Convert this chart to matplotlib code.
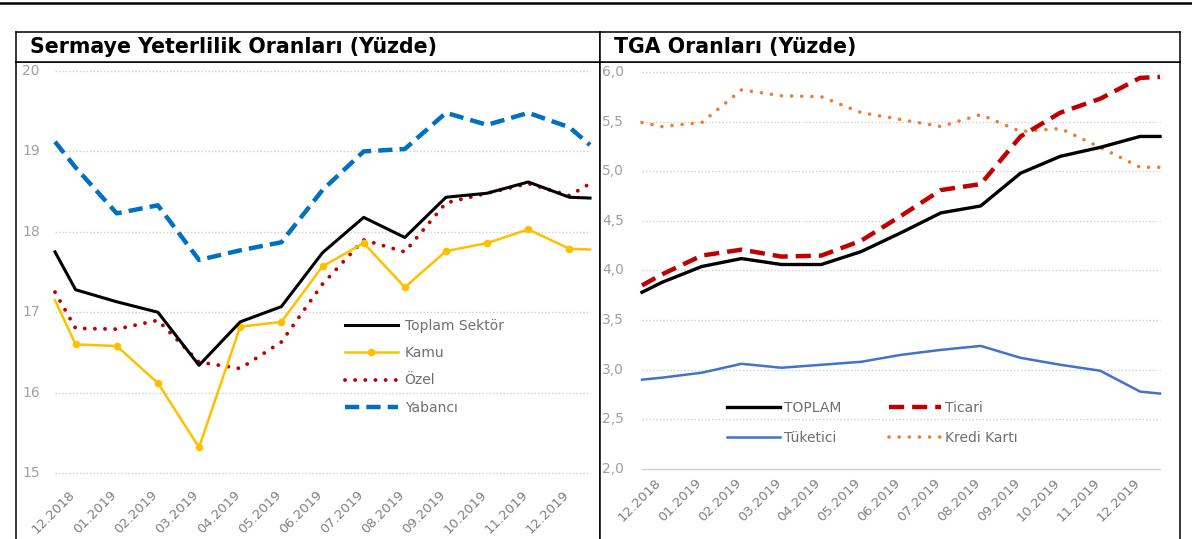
import numpy as np
import matplotlib
matplotlib.use("Agg")
import matplotlib.pyplot as plt
from matplotlib.lines import Line2D
from matplotlib.transforms import blended_transform_factory

# x-axis labels (both panels)
months = ['12.2018', '01.2019', '02.2019', '03.2019', '04.2019', '05.2019', '06.2019',
          '07.2019', '08.2019', '09.2019', '10.2019', '11.2019', '12.2019']

# Sermaye Yeterlilik Oranlari (Yuzde) - lines run half a month past both ends
toplam_sektor = [17.75, 17.28, 17.13, 17.00, 16.34, 16.88, 17.07, 17.74, 18.18, 17.93,
                 18.43, 18.48, 18.62, 18.43, 18.42]
kamu = [17.15, 16.60, 16.58, 16.12, 15.32, 16.82, 16.88, 17.57, 17.86, 17.31,
        17.76, 17.86, 18.03, 17.79, 17.78]
ozel = [17.25, 16.80, 16.79, 16.90, 16.38, 16.30, 16.63, 17.35, 17.90, 17.75,
        18.36, 18.48, 18.60, 18.45, 18.60]
yabanci = [19.12, 18.80, 18.23, 18.33, 17.65, 17.77, 17.87, 18.52, 19.00, 19.03,
           19.48, 19.33, 19.48, 19.30, 19.08]
left_ticks = [15, 16, 17, 18, 19, 20]

# TGA Oranlari (Yuzde)
tga_toplam = [3.78, 3.88, 4.04, 4.12, 4.06, 4.06, 4.19, 4.38, 4.58, 4.65,
              4.98, 5.15, 5.24, 5.35, 5.35]
ticari = [3.85, 3.96, 4.15, 4.21, 4.14, 4.15, 4.30, 4.55, 4.81, 4.87,
          5.35, 5.59, 5.73, 5.94, 5.95]
tuketici = [2.90, 2.92, 2.97, 3.06, 3.02, 3.05, 3.08, 3.15, 3.20, 3.24,
            3.12, 3.05, 2.99, 2.78, 2.76]
kredi_karti = [5.49, 5.45, 5.49, 5.82, 5.76, 5.75, 5.59, 5.52, 5.45, 5.57,
               5.40, 5.43, 5.24, 5.04, 5.04]
right_ticks = [2.0, 2.5, 3.0, 3.5, 4.0, 4.5, 5.0, 5.5, 6.0]

W, H = 1192, 539
GRAY = '#808080'
GRID = '#d0d0d0'

# category positions plus the half-step stubs at both ends
n = len(months)
x = np.concatenate([[-0.5], np.arange(n), [n - 0.5]])

fig = plt.figure(figsize=(W / 100, H / 100), dpi=100)


def fx(px):
    return px / W


def fy(py):
    return 1 - py / H


def make_panel(x0, x1, title, ylim, xlim, ticks, fmt, first_solid):
    ax = fig.add_axes([fx(x0), 0, fx(x1) - fx(x0), fy(62)])
    tax = fig.add_axes([fx(x0), fy(62), fx(x1) - fx(x0), 30 / H])
    for a in (ax, tax):
        a.set_xticks([])
        a.set_yticks([])
        for s in a.spines.values():
            s.set_color('black')
            s.set_linewidth(1.1)
    ax.spines['bottom'].set_visible(False)
    tax.text(14 / (x1 - x0), 0.5, title, transform=tax.transAxes, fontsize=14.8,
             fontweight='bold', ha='left', va='center', color='black')
    ax.set_xlim(*xlim)
    ax.set_ylim(*ylim)

    # gridlines only across the plot area
    for i, t in enumerate(ticks):
        ls = '-' if (i == 0 and first_solid) else (0, (1, 1.5))
        ax.plot([-0.5, n - 0.5], [t, t], color=GRID, lw=1, ls=ls, zorder=1)
    tr = blended_transform_factory(ax.transAxes, ax.transData)
    for t in ticks:
        ax.text(fmt[0], t, fmt[1](t), transform=tr, fontsize=10, color='#a0a0a0',
                ha='left', va='center')
    tr2 = blended_transform_factory(ax.transData, ax.transAxes)
    for i, m in enumerate(months):
        ax.text(i + fmt[3], fmt[2], m, transform=tr2, fontsize=9.5, color=GRAY,
                rotation=45, ha='right', va='top', rotation_mode='anchor')
    return ax


# ---- left panel ----
ax1 = make_panel(16, 600, 'Sermaye Yeterlilik Oranları (Yüzde)',
                 (14.18, 20.112), (-1.448, 12.743), left_ticks,
                 (6 / 584, lambda v: f'{v:d}', 0.106, -0.17), False)
ax1.plot(x, yabanci, color='#0070c0', lw=3.2, ls=(0, (3.2, 1.6)), label='Yabancı', zorder=3)
ax1.plot(x, ozel, color='#c00000', lw=2.8, ls=(0, (0.01, 2.6)), dash_capstyle='round',
         label='Özel', zorder=4)
ax1.plot(x, kamu, color='#ffc000', lw=1.8, marker='o', markersize=4.5,
         markevery=list(range(1, n + 1)), label='Kamu', zorder=4)
ax1.plot(x, toplam_sektor, color='black', lw=2.2, label='Toplam Sektör', zorder=5)

h, l = ax1.get_legend_handles_labels()
order = [3, 2, 1, 0]
fig.legend([h[i] for i in order], [l[i] for i in order], loc='upper left',
           bbox_to_anchor=(fx(345), fy(319)), frameon=False, fontsize=10,
           handlelength=3.8, handletextpad=0.5, labelspacing=0.95,
           borderpad=0, borderaxespad=0, labelcolor='#6f6f6f')

# ---- right panel ----
ax2 = make_panel(600, 1180, 'TGA Oranları (Yüzde)',
                 (1.295, 6.10), (-1.554, 13.002), right_ticks,
                 (2 / 580, lambda v: f'{v:.1f}'.replace('.', ','), 0.131, -0.18), True)
ax2.plot(x, kredi_karti, color='#ed7d31', lw=2.6, ls=(0, (0.01, 2.8)),
         dash_capstyle='round', label='Kredi Kartı', zorder=3)
ax2.plot(x, tuketici, color='#4472c4', lw=1.8, label='Tüketici', zorder=3)
ax2.plot(x, ticari, color='#c00000', lw=3.2, ls=(0, (3.4, 1.8)), label='Ticari', zorder=4)
ax2.plot(x, tga_toplam, color='black', lw=2.4, label='TOPLAM', zorder=5)

h, l = ax2.get_legend_handles_labels()
order = [3, 1, 2, 0]
fig.legend([h[i] for i in order], [l[i] for i in order], loc='upper left', ncol=2,
           bbox_to_anchor=(fx(727), fy(401)), frameon=False, fontsize=10,
           handlelength=3.8, handletextpad=0.3, labelspacing=1.15, columnspacing=3.4,
           borderpad=0, borderaxespad=0, labelcolor='#6f6f6f')

# top rule across the page
fig.add_artist(Line2D([0, 1], [fy(3), fy(3)], color='black', lw=1.8))

fig.savefig('out.png', dpi=100)
